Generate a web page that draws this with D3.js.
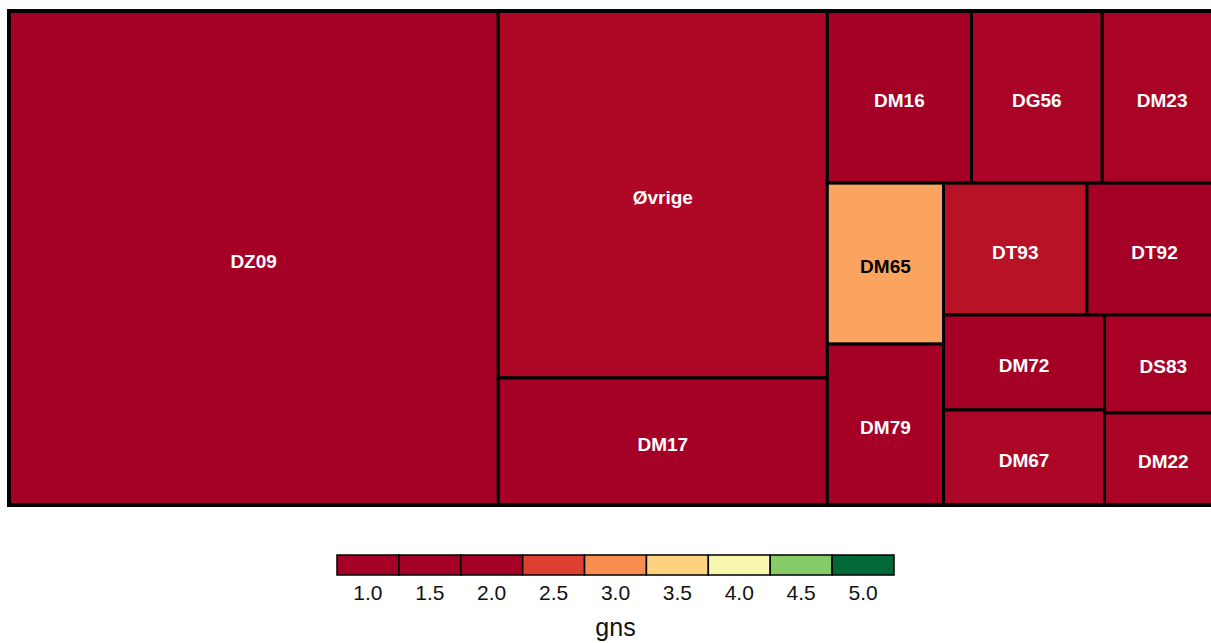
<!DOCTYPE html>
<html>
<head>
<meta charset="utf-8">
<script src="https://cdn.jsdelivr.net/npm/d3@7"></script>
<style>
  body { margin: 0; background: #fff; }
  svg { display: block; }
</style>
</head>
<body>
<script>
const W = 1211,
  H = 643;

// tiles, in layout order
const names = ["DZ09", "Øvrige", "DM17", "DM16", "DG56", "DM23", "DM65", "DM79",
  "DT93", "DT92", "DM72", "DM67", "DS83", "DM22"];
const sizes = [2416, 1207, 418, 248, 225, 206, 187, 187, 189, 178, 153, 153, 115, 108];
const gns = [1.8, 2.07, 1.9, 1.95, 2.04, 2.03, 3.15, 1.9, 2.15, 1.95, 1.9, 2.06, 2.02, 2.04];

// how many tiles go into each strip of the layout
const strips = [1, 2, 3, 2, 2, 2, 2];

const legendValues = [1.0, 1.5, 2.0, 2.5, 3.0, 3.5, 4.0, 4.5, 5.0];

const colorPos = d3.scaleLinear().domain([2, 4, 5]).range([0, 0.5, 1]).clamp(true);
const color = function(v) {
  return d3.interpolateRdYlGn(colorPos(v));
};

// strip layout: every strip runs along the short side of what is left,
// the last one is split along its long side
function stripTile(parent, x0, y0, x1, y1) {
  const nodes = parent.children;
  let i = 0,
    remaining = parent.value;
  strips.forEach(function(k, s) {
    const row = nodes.slice(i, i + k);
    i += k;
    const sum = d3.sum(row, function(d) { return d.value; });
    const strip = { children: row, value: sum };
    const dx = x1 - x0,
      dy = y1 - y0;
    if (s === strips.length - 1) {
      if (dy >= dx) d3.treemapSlice(strip, x0, y0, x1, y1);
      else d3.treemapDice(strip, x0, y0, x1, y1);
    } else if (dx >= dy) {
      const w = dx * sum / remaining;
      d3.treemapSlice(strip, x0, y0, x0 + w, y1);
      x0 += w;
    } else {
      const h = dy * sum / remaining;
      d3.treemapDice(strip, x0, y0, x1, y0 + h);
      y0 += h;
    }
    remaining -= sum;
  });
}

const data = {
  name: "root",
  children: names.map(function(n, i) {
    return { name: n, size: sizes[i], gns: gns[i] };
  })
};

const root = d3.hierarchy(data).sum(function(d) { return d.size || 0; });

d3.treemap()
  .size([1213, 494])
  .tile(stripTile)(root);

const svg = d3.select("body")
  .append("svg")
  .attr("width", W)
  .attr("height", H)
  .style("font-family", "'Liberation Sans', Arial, sans-serif");

const map = svg.append("g").attr("transform", "translate(9,11)");

const cell = map.selectAll("g")
  .data(root.leaves())
  .enter()
  .append("g");

cell.append("rect")
  .attr("x", function(d) { return d.x0; })
  .attr("y", function(d) { return d.y0; })
  .attr("width", function(d) { return d.x1 - d.x0; })
  .attr("height", function(d) { return d.y1 - d.y0; })
  .attr("fill", function(d) { return color(d.data.gns); })
  .attr("stroke", "#000")
  .attr("stroke-width", 3);

cell.append("text")
  .attr("x", function(d) { return (d.x0 + d.x1) / 2; })
  .attr("y", function(d) { return (d.y0 + d.y1) / 2; })
  .attr("dy", "0.5em")
  .attr("text-anchor", "middle")
  .style("font-size", "19px")
  .style("font-weight", "bold")
  .style("fill", function(d) {
    return d3.lab(color(d.data.gns)).l > 60 ? "#000" : "#fff";
  })
  .text(function(d) { return d.data.name; });

// outer frame
map.append("rect")
  .attr("width", 1213)
  .attr("height", 494)
  .attr("fill", "none")
  .attr("stroke", "#000")
  .attr("stroke-width", 4);

// legend
const lx = d3.scaleBand()
  .domain(legendValues.map(String))
  .range([337, 894]);

const legend = svg.append("g");

legend.selectAll("rect")
  .data(legendValues)
  .enter()
  .append("rect")
  .attr("x", function(d) { return lx(String(d)); })
  .attr("y", 555)
  .attr("width", lx.bandwidth())
  .attr("height", 20)
  .attr("fill", function(d) { return color(d); })
  .attr("stroke", "#000")
  .attr("stroke-width", 1.5);

legend.selectAll("text.tick")
  .data(legendValues)
  .enter()
  .append("text")
  .attr("class", "tick")
  .attr("x", function(d) { return lx(String(d)) + lx.bandwidth() / 2; })
  .attr("y", 600)
  .attr("text-anchor", "middle")
  .style("font-size", "21px")
  .style("fill", "#111")
  .text(function(d) { return d3.format(".1f")(d); });

legend.append("text")
  .attr("x", (337 + 894) / 2)
  .attr("y", 636)
  .attr("text-anchor", "middle")
  .style("font-size", "25px")
  .style("fill", "#111")
  .text("gns");
</script>
</body>
</html>
